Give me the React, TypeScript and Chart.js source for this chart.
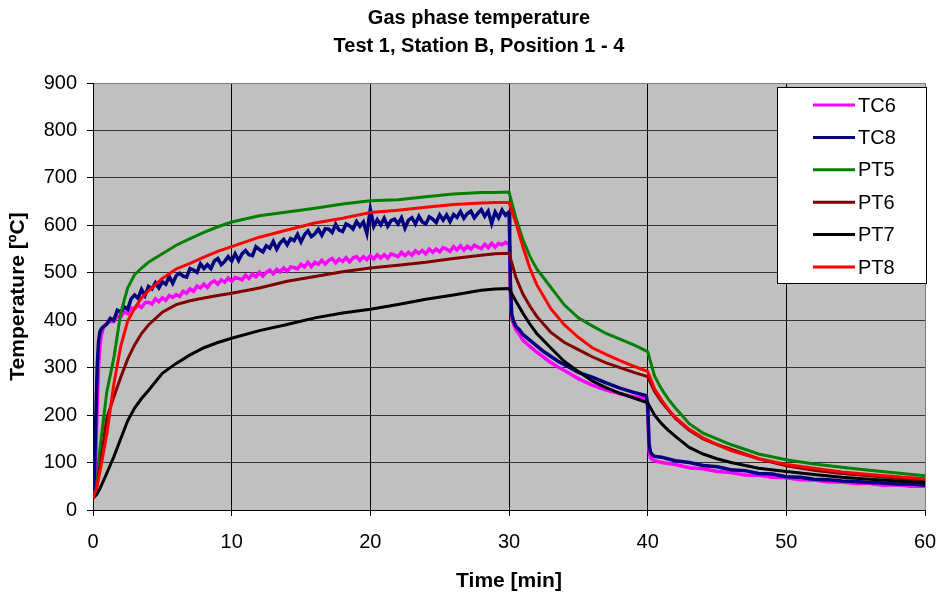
import React, { useEffect, useRef } from 'react';
import { Chart, registerables } from 'chart.js';

Chart.register(...registerables);

const TITLE_LINES = ['Gas phase temperature', 'Test 1, Station B, Position 1 - 4'];
const X_TITLE = 'Time [min]';
const Y_TITLE = 'Temperature [ºC]';
const X_RANGE = [0, 60, 10];
const Y_RANGE = [0, 900, 100];

const SERIES_NAMES = ['TC6', 'TC8', 'PT5', 'PT6', 'PT7', 'PT8'];
const SERIES_COLORS = ['#FF00FF', '#000080', '#008000', '#800000', '#000000', '#FF0000'];

const ptTime = [0, 0.25, 0.5, 1, 1.5, 2, 2.5, 3, 3.5, 4, 5, 6, 7, 8, 9, 10, 12, 14, 16, 18, 20, 22, 24, 26, 28, 29, 30, 30.5, 31, 31.5, 32, 33, 34, 35, 36, 37, 38, 39, 40, 40.5, 41, 41.5, 42, 43, 44, 45, 46, 48, 50, 52, 54, 56, 58, 60];

const pt5 = [25, 45, 130, 250, 320, 415, 468, 496, 510, 522, 540, 558, 572, 585, 597, 607, 620, 628, 636, 645, 652, 654, 660, 666, 669, 669, 670, 615, 570, 535, 508, 470, 432, 405, 388, 372, 360, 348, 334, 282, 255, 233, 215, 182, 162, 150, 138, 118, 106, 97, 90, 84, 78, 72];
const pt6 = [25, 45, 90, 195, 238, 280, 318, 348, 372, 390, 417, 433, 441, 447, 452, 457, 468, 482, 492, 502, 510, 516, 522, 530, 537, 540, 541, 490, 455, 430, 408, 375, 353, 338, 323, 310, 300, 290, 281, 250, 228, 210, 193, 168, 150, 138, 128, 108, 93, 84, 77, 72, 67, 63];
const pt7 = [25, 32, 45, 78, 112, 150, 188, 215, 235, 252, 288, 309, 327, 342, 353, 362, 378, 391, 405, 415, 423, 433, 444, 453, 463, 466, 467, 440, 415, 392, 372, 342, 313, 292, 272, 258, 246, 236, 226, 200, 182, 168, 155, 132, 118, 108, 100, 88, 81, 75, 69, 65, 61, 58];
const pt8 = [25, 45, 80, 160, 265, 345, 398, 425, 447, 462, 488, 508, 520, 533, 545, 555, 575, 590, 605, 615, 627, 632, 638, 644, 647, 648, 648, 605, 555, 510, 475, 425, 390, 364, 342, 328, 315, 303, 292, 255, 232, 212, 195, 170, 152, 138, 125, 108, 96, 88, 80, 75, 70, 66];

const tc6: [number, number][] = [
  [0, 25], [0.1, 40], [0.2, 110], [0.3, 220], [0.4, 300], [0.5, 345], [0.6, 368], [0.75, 385],
  [1, 393], [1.25, 398], [1.5, 397], [1.75, 409], [2, 408], [2.25, 417], [2.5, 414], [2.75, 426],
  [3, 424], [3.25, 432], [3.5, 427], [3.75, 437], [4, 438], [4.25, 434], [4.5, 445], [4.75, 439],
  [5, 447], [5.25, 442], [5.5, 452], [5.75, 448], [6, 454], [6.25, 450], [6.5, 461], [6.75, 457],
  [7, 466], [7.25, 461], [7.5, 472], [7.75, 468], [8, 476], [8.25, 469], [8.5, 479], [8.75, 483],
  [9, 476], [9.25, 485], [9.5, 480], [9.75, 489], [10, 482], [10.25, 490], [10.5, 488], [10.75, 485],
  [11, 495], [11.25, 488], [11.5, 497], [11.75, 492], [12, 501], [12.25, 493], [12.5, 501], [12.75, 506],
  [13, 498], [13.25, 507], [13.5, 502], [13.75, 510], [14, 503], [14.25, 512], [14.5, 511], [14.75, 508],
  [15, 518], [15.25, 512], [15.5, 522], [15.75, 513], [16, 522], [16.25, 518], [16.5, 526], [16.75, 518],
  [17, 526], [17.25, 530], [17.5, 521], [17.75, 529], [18, 524], [18.25, 532], [18.5, 523], [18.75, 531],
  [19, 534], [19.25, 526], [19.5, 534], [19.75, 528], [20, 536], [20.25, 529], [20.5, 538], [20.75, 531],
  [21, 538], [21.25, 531], [21.5, 540], [21.75, 537], [22, 534], [22.25, 543], [22.5, 536], [22.75, 543],
  [23, 537], [23.25, 546], [23.5, 541], [23.75, 547], [24, 540], [24.25, 550], [24.5, 543], [24.75, 550],
  [25, 544], [25.25, 553], [25.5, 550], [25.75, 545], [26, 555], [26.25, 548], [26.5, 557], [26.75, 548],
  [27, 556], [27.25, 550], [27.5, 558], [27.75, 554], [28, 551], [28.25, 560], [28.5, 553], [28.75, 562],
  [29, 554], [29.25, 562], [29.5, 559], [29.75, 564], [30, 560],
  [30.05, 540], [30.1, 450], [30.2, 405], [30.35, 390], [30.5, 380], [30.75, 370], [31, 358], [31.5, 345],
  [32, 333], [32.5, 322], [33, 311], [33.5, 302], [34, 294], [35, 277], [36, 263], [37, 253], [38, 245],
  [39, 239], [39.9, 235], [40, 215], [40.1, 125], [40.2, 110], [40.35, 106], [40.5, 104],
  [41, 100], [42, 96], [43, 89], [44, 87], [45, 81], [46, 79], [47, 74], [48, 73], [49, 69], [50, 68],
  [51, 64], [52, 63], [53, 59], [54, 59], [55, 56], [56, 56], [57, 52], [58, 53], [59, 50], [60, 50],
];

const tc8: [number, number][] = [
  [0, 25], [0.1, 70], [0.2, 190], [0.3, 300], [0.4, 355], [0.5, 375], [0.6, 382], [0.75, 386],
  [1, 392], [1.25, 404], [1.5, 400], [1.75, 421], [2, 417], [2.25, 428], [2.5, 423], [2.75, 445],
  [3, 453], [3.25, 446], [3.5, 465], [3.75, 452], [4, 471], [4.25, 466], [4.5, 479], [4.75, 468],
  [5, 481], [5.25, 476], [5.5, 492], [5.75, 478], [6, 494], [6.25, 499], [6.5, 493], [6.75, 491],
  [7, 509], [7.25, 506], [7.5, 501], [7.75, 519], [8, 509], [8.25, 517], [8.5, 509], [8.75, 525],
  [9, 530], [9.25, 517], [9.5, 524], [9.75, 534], [10, 525], [10.25, 540], [10.5, 526], [10.75, 540],
  [11, 547], [11.25, 538], [11.5, 536], [11.75, 555], [12, 549], [12.25, 544], [12.5, 557], [12.75, 552],
  [13, 566], [13.25, 550], [13.5, 563], [13.75, 570], [14, 559], [14.25, 572], [14.5, 568], [14.75, 581],
  [15, 565], [15.25, 580], [15.5, 588], [15.75, 576], [16, 582], [16.25, 592], [16.5, 579], [16.75, 593],
  [17, 592], [17.25, 585], [17.5, 602], [17.75, 590], [18, 587], [18.25, 603], [18.5, 599], [18.75, 592],
  [19, 608], [19.25, 598], [19.5, 607], [19.75, 583], [20, 634], [20.25, 598], [20.5, 612], [20.75, 601],
  [21, 615], [21.25, 598], [21.5, 610], [21.75, 613], [22, 603], [22.25, 616], [22.5, 594], [22.75, 611],
  [23, 616], [23.25, 603], [23.5, 619], [23.75, 607], [24, 603], [24.25, 618], [24.5, 613], [24.75, 606],
  [25, 622], [25.25, 611], [25.5, 622], [25.75, 608], [26, 623], [26.25, 617], [26.5, 629], [26.75, 615],
  [27, 625], [27.25, 630], [27.5, 616], [27.75, 625], [28, 633], [28.25, 619], [28.5, 630], [28.75, 604],
  [29, 628], [29.25, 616], [29.5, 632], [29.75, 621], [30, 628],
  [30.05, 575], [30.1, 480], [30.2, 412], [30.35, 396], [30.5, 387], [30.75, 380], [31, 370], [31.5, 358],
  [32, 346], [32.5, 334], [33, 324], [33.5, 314], [34, 306], [35, 290], [36, 280], [37, 268], [38, 257],
  [39, 248], [39.9, 241], [40, 222], [40.1, 140], [40.2, 122], [40.35, 116], [40.5, 113],
  [41, 111], [42, 104], [43, 100], [44, 94], [45, 91], [46, 85], [47, 83], [48, 77], [49, 76], [50, 70],
  [51, 69], [52, 65], [53, 64], [54, 61], [55, 60], [56, 58], [57, 57], [58, 55], [59, 55], [60, 52],
];

const FONT = '"Liberation Sans", Arial, sans-serif';

function toPoints(times: number[], values: number[]) {
  return values.map((v, i) => ({ x: times[i], y: v }));
}
function pairsToPoints(pairs: [number, number][]) {
  return pairs.map(([x, y]) => ({ x, y }));
}

const decorPlugin = {
  id: 'decor',
  beforeDraw(chart: any) {
    const { ctx, chartArea } = chart;
    ctx.save();
    ctx.fillStyle = '#ffffff';
    ctx.fillRect(0, 0, chart.width, chart.height);
    ctx.fillStyle = '#C0C0C0';
    ctx.fillRect(chartArea.left, chartArea.top, chartArea.right - chartArea.left, chartArea.bottom - chartArea.top);
    ctx.restore();
  },
  afterDraw(chart: any) {
    const { ctx, chartArea } = chart;
    ctx.save();
    ctx.fillStyle = '#000';
    ctx.font = `bold 20px ${FONT}`;
    ctx.textAlign = 'center';
    ctx.textBaseline = 'middle';
    ctx.fillText(TITLE_LINES[0], 479, 18);
    ctx.fillText(TITLE_LINES[1], 479, 46);

    const bx = chartArea.right - 148;
    const by = chartArea.top + 4;
    const bw = 150;
    const bh = 197;
    ctx.fillStyle = '#ffffff';
    ctx.fillRect(bx, by, bw, bh);
    ctx.strokeStyle = '#000';
    ctx.lineWidth = 1;
    ctx.strokeRect(bx + 0.5, by + 0.5, bw - 1, bh - 1);
    ctx.font = `20px ${FONT}`;
    ctx.textAlign = 'left';
    ctx.textBaseline = 'middle';
    SERIES_NAMES.forEach((name, i) => {
      const y = by + 18 + i * 32.4;
      ctx.strokeStyle = SERIES_COLORS[i];
      ctx.lineWidth = 3;
      ctx.beginPath();
      ctx.moveTo(bx + 36, y);
      ctx.lineTo(bx + 78, y);
      ctx.stroke();
      ctx.fillStyle = '#000';
      ctx.fillText(name, bx + 81, y + 1);
    });
    ctx.restore();
  },
};

export default function App() {
  const ref = useRef<HTMLCanvasElement | null>(null);

  useEffect(() => {
    if (!ref.current) return;
    const seriesData = [
      pairsToPoints(tc6),
      pairsToPoints(tc8),
      toPoints(ptTime, pt5),
      toPoints(ptTime, pt6),
      toPoints(ptTime, pt7),
      toPoints(ptTime, pt8),
    ];
    const chart = new Chart(ref.current, {
      type: 'line',
      data: {
        datasets: SERIES_NAMES.map((name, i) => ({
          label: name,
          data: seriesData[i],
          borderColor: SERIES_COLORS[i],
          backgroundColor: SERIES_COLORS[i],
          borderWidth: i < 2 ? 3.5 : 3,
          pointRadius: 0,
          tension: 0,
          fill: false,
          order: SERIES_NAMES.length - i,
        })),
      },
      options: {
        animation: false,
        responsive: false,
        devicePixelRatio: 1,
        layout: { padding: { top: 83, right: 14, left: 0, bottom: 0 } },
        plugins: {
          legend: { display: false },
          title: { display: false },
          tooltip: { enabled: false },
        },
        scales: {
          x: {
            type: 'linear',
            min: X_RANGE[0],
            max: X_RANGE[1],
            ticks: { stepSize: X_RANGE[2], color: '#000', font: { family: FONT, size: 20 }, padding: 14, maxRotation: 0 },
            grid: {
              color: (c: any) => (c.tick && c.tick.value === X_RANGE[1] ? '#808080' : '#000'),
              tickColor: '#000',
              tickLength: 6,
              lineWidth: 1,
            },
            border: { color: '#000' },
            title: { display: true, text: X_TITLE, color: '#000', font: { family: FONT, size: 21, weight: 'bold' }, padding: { top: 0, bottom: 3 } },
            afterFit: (s: any) => { s.height = 87; s.paddingLeft = 0; s.paddingRight = 0; },
          },
          y: {
            min: Y_RANGE[0],
            max: Y_RANGE[1],
            ticks: { stepSize: Y_RANGE[2], color: '#000', font: { family: FONT, size: 20 }, padding: 10 },
            grid: {
              color: (c: any) => (c.tick && c.tick.value === Y_RANGE[1] ? '#808080' : '#333'),
              tickColor: '#000',
              tickLength: 6,
              lineWidth: 1,
            },
            border: { color: '#000' },
            title: { display: true, text: Y_TITLE, color: '#000', font: { family: FONT, size: 21, weight: 'bold' }, padding: { top: 6, bottom: 0 } },
            afterFit: (s: any) => { s.width = 93; s.paddingTop = 0; s.paddingBottom = 0; },
          },
        },
      },
      plugins: [decorPlugin],
    } as any);
    return () => chart.destroy();
  }, []);

  return (
    <div style={{ position: 'fixed', left: 0, top: 0, width: 939, height: 597, background: '#fff' }}>
      <canvas ref={ref} width={939} height={597} />
    </div>
  );
}
